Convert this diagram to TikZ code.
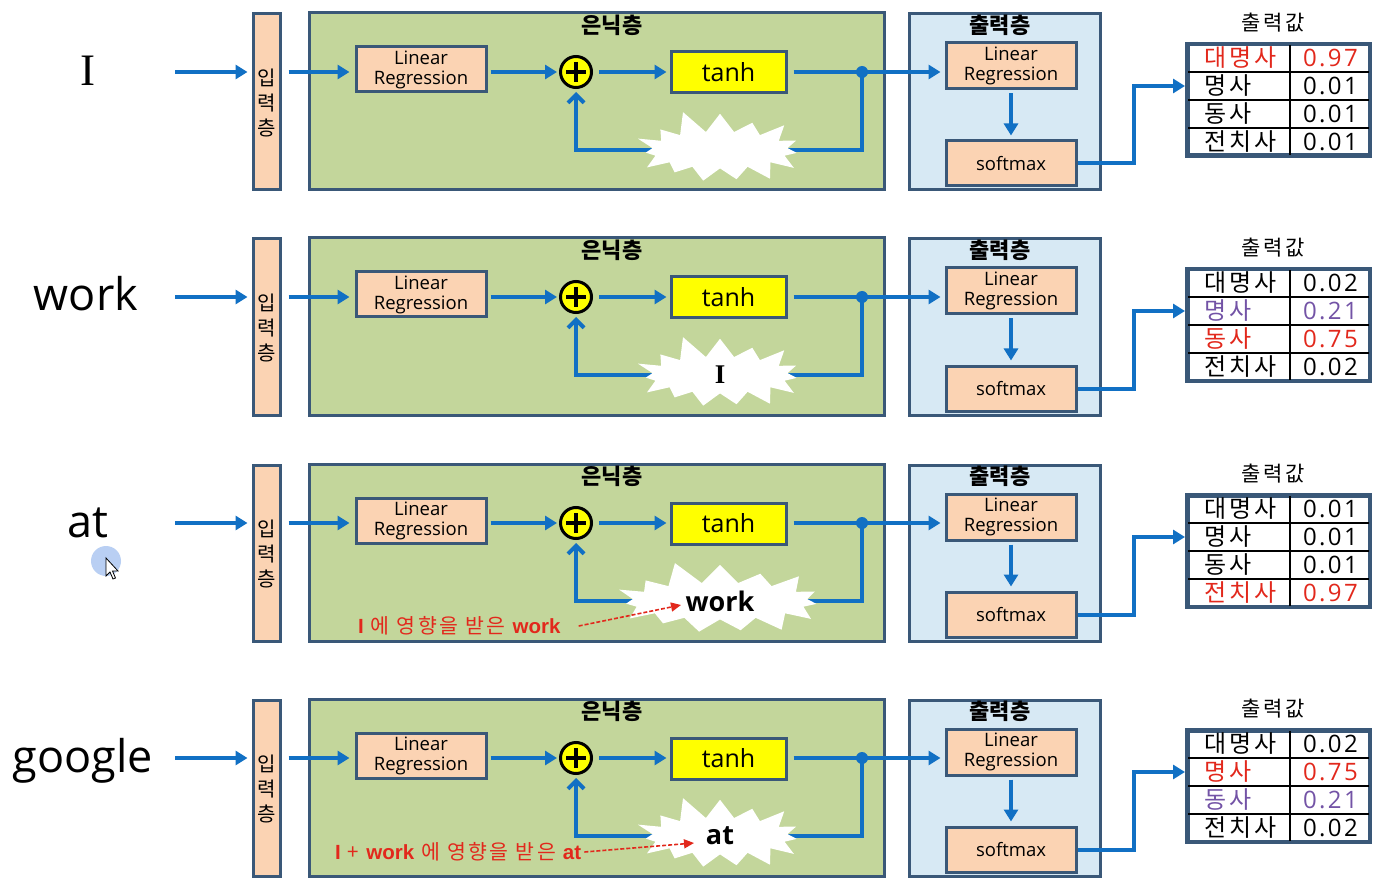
\documentclass[tikz,border=0pt]{standalone}
\usepackage{fontspec}
\setmainfont{Open Sans}
\newfontfamily\kr{Noto Sans CJK KR}
\newfontfamily\krwide{Noto Sans CJK KR}[LetterSpace=12]
\newfontfamily\numwide{Open Sans}[LetterSpace=10]
\newfontfamily\serifI{Liberation Serif}
\newfontfamily\arialish{Liberation Sans}
\usetikzlibrary{arrows.meta,shapes.symbols,calc}
\definecolor{arrowblue}{HTML}{1170C4}
\definecolor{boxborder}{HTML}{3A5878}
\definecolor{hidfill}{HTML}{C3D69B}
\definecolor{outfill}{HTML}{D7E9F4}
\definecolor{peach}{HTML}{FBD3B3}
\definecolor{hotred}{HTML}{E2281C}
\definecolor{purp}{HTML}{7353A6}
\definecolor{plusyellow}{HTML}{FFFF00}
\definecolor{cursorblue}{HTML}{A8C4F0}
\newcommand{\fs}[2]{\fontsize{#1}{#2}\selectfont}
\tikzset{
  flow/.style={draw=arrowblue, line width=4pt, -{Triangle[length=12pt,width=14pt]}},
  fback/.style={draw=arrowblue, line width=4pt, -{Straight Barb[length=8pt,width=16pt]}},
  layerbox/.style={draw=boxborder, line width=3pt, rectangle, inner sep=0pt},
  peachbox/.style={layerbox, fill=peach, font=\fs{18.5}{20}, align=center},
  tanhbox/.style={layerbox, fill=plusyellow, font=\fs{25}{28}},
  plusnode/.style={circle, draw=black, line width=3pt, fill=plusyellow, minimum size=31pt, inner sep=0pt},
  plusbar/.style={draw=black, line width=3.5pt},
  titletext/.style={font=\kr\bfseries\fs{22}{24}},
  outtitle/.style={font=\krwide\fs{21}{24}},
  starnode/.style={starburst, fill=white, draw=none, starburst points=15, starburst point height=24pt, random starburst=11, inner ysep=13pt},
  startext/.style={font=\bfseries\fs{27}{30}, inner sep=0pt},
  wordtext/.style={font=\fs{45}{48}, anchor=base},
  tabtxt/.style={font=\krwide\fs{24}{26}, inner sep=0pt, anchor=west},
  tabval/.style={font=\numwide\fs{24}{26}, inner sep=0pt, anchor=east},
  tabline/.style={draw=black, line width=2pt},
  tabframe/.style={draw=boxborder, line width=3pt, rectangle, inner sep=0pt, minimum width=181pt, minimum height=110pt},
  notetext/.style={font=\krwide\fs{20.5}{22}, text=hotred, inner sep=0pt},
  noteflow/.style={draw=hotred, line width=1.6pt, dash pattern=on 4pt off 2pt, -{Triangle[length=10pt,width=9pt]}},
}
\newcommand{\rnntable}[9]{%
  \begin{scope}[shift={(0,#1)}]
    \node[tabframe] (tab#1) at (1278.5,100) {};
    \draw[tabline] (1188,72) -- (1369,72);
    \draw[tabline] (1188,100) -- (1369,100);
    \draw[tabline] (1188,128) -- (1369,128);
    \draw[tabline] (1290,45) -- (1290,155);
    \draw[draw=boxborder, line width=3pt] (tab#1.south west) rectangle (tab#1.north east);
    \node[tabtxt] (tla#1) at (1204,58) {#2};
    \node[tabval] (tva#1) at (1358,58) {#3};
    \node[tabtxt] (tlb#1) at (1204,86) {#4};
    \node[tabval] (tvb#1) at (1358,86) {#5};
    \node[tabtxt] (tlc#1) at (1204,114) {#6};
    \node[tabval] (tvc#1) at (1358,114) {#7};
    \node[tabtxt] (tld#1) at (1204,142) {#8};
    \node[tabval] (tvd#1) at (1358,142) {#9};
  \end{scope}}
\begin{document}
\begin{tikzpicture}[x=1pt,y=-1pt]
\useasboundingbox (0,0) rectangle (1378,882);
\fill[white] (0,0) rectangle (1378,882);
\foreach \rid/\rowoff/\wrd/\wx/\stw/\sttext in {1/0/{\serifI I}/88/48/{}, 2/225/work/86/48/{\serifI I}, 3/451/at/88/62/{work}, 4/686/google/83/48/{at}} {
\begin{scope}[shift={(0,\rowoff)}]
  \node[wordtext] (w\rid) at (\wx,86) {\wrd};
  \coordinate (ws\rid) at (175,72);
  \node[layerbox, fill=peach, minimum width=27pt, minimum height=176pt] (in\rid) at (266.5,102) {};
  \node[font=\kr\fs{20}{25}, align=center, inner sep=0pt] (inl\rid) at (266.5,103) {입\\력\\층};
  \draw[flow, shorten >=4pt] (ws\rid) -- (in\rid.west |- ws\rid);
  \node[layerbox, fill=hidfill, minimum width=575pt, minimum height=177pt] (hid\rid) at (596.5,101.5) {};
  \node[titletext] (hidt\rid) at (612,25) {은닉층};
  \node[peachbox, minimum width=130pt, minimum height=45pt] (lr\rid) at (421,69.5) {Linear\\Regression};
  \draw[flow, shorten <=7pt, shorten >=5pt] (in\rid.east |- ws\rid) -- (lr\rid.west |- ws\rid);
  \node[plusnode] (pl\rid) at (576,72) {};
  \draw[plusbar] ($(pl\rid)+(-10,0)$) -- ($(pl\rid)+(10,0)$);
  \draw[plusbar] ($(pl\rid)+(0,-10)$) -- ($(pl\rid)+(0,10)$);
  \draw[flow, shorten <=3pt, shorten >=2pt] (lr\rid.east |- pl\rid) -- (pl\rid.west);
  \node[tanhbox, minimum width=115pt, minimum height=41pt] (th\rid) at (728.5,72.5) {tanh};
  \draw[flow, shorten <=6pt, shorten >=3pt] (pl\rid.east) -- (th\rid.west |- pl\rid);
  \coordinate (dot\rid) at (862,72);
  \node[layerbox, fill=outfill, minimum width=191pt, minimum height=176pt] (out\rid) at (1004.5,102) {};
  \node[titletext] (outt\rid) at (1000,25) {출력층};
  \node[peachbox, minimum width=130pt, minimum height=46pt] (olr\rid) at (1011,66) {Linear\\Regression};
  \node[peachbox, minimum width=130pt, minimum height=45pt] (sm\rid) at (1011,163.5) {softmax};
  \draw[flow, shorten <=6pt, shorten >=4pt] (th\rid.east |- dot\rid) -- (olr\rid.west |- dot\rid);
  \fill[arrowblue] (dot\rid) circle (6pt);
  \draw[flow, shorten <=3pt, shorten >=4pt] (olr\rid.south) -- (sm\rid.north);
  \coordinate (stc\rid) at (720,150);
  \draw[fback, shorten >=3pt] (dot\rid) |- (stc\rid) -| (pl\rid.south);
  \node[starnode, inner xsep=\stw pt] (st\rid) at (stc\rid) {};
  \node[startext] (stt\rid) at (stc\rid) {\sttext};
  \coordinate (tin\rid) at (1187,86);
  \draw[flow, shorten >=2pt] (sm\rid.east) -- ++(56,0) |- (tin\rid);
  \node[outtitle] (ov\rid) at (1273,23) {출력값};
\end{scope}
}
\rnntable{0}{\color{hotred}대명사}{\color{hotred}0.97}{명사}{0.01}{동사}{0.01}{전치사}{0.01}
\rnntable{225}{대명사}{0.02}{\color{purp}명사}{\color{purp}0.21}{\color{hotred}동사}{\color{hotred}0.75}{전치사}{0.02}
\rnntable{451}{대명사}{0.01}{명사}{0.01}{동사}{0.01}{\color{hotred}전치사}{\color{hotred}0.97}
\rnntable{686}{대명사}{0.02}{\color{hotred}명사}{\color{hotred}0.75}{\color{purp}동사}{\color{purp}0.21}{전치사}{0.02}
% annotations
\node[notetext, anchor=west] (note3) at (358,626) {{\arialish\bfseries I} 에 영향을 받은 {\arialish\bfseries work}};
\coordinate (nt3) at (681,605);
\draw[noteflow] ($(note3.east)+(18,0)$) -- (nt3);
\node[notetext, anchor=west] (note4) at (335,852) {{\arialish\bfseries I} + {\arialish\bfseries work} 에 영향을 받은 {\arialish\bfseries at}};
\coordinate (nt4) at (694,843);
\draw[noteflow] ($(note4.east)+(3,0)$) -- (nt4);
% cursor
\fill[cursorblue, opacity=0.8] (106,561) circle (15pt);
\draw[black, fill=white, line width=0.8pt] (106,558) -- (106,576) -- (110,572) -- (113,579) -- (115.5,578) -- (112.5,571) -- (118,571) -- cycle;
\end{tikzpicture}
\end{document}
